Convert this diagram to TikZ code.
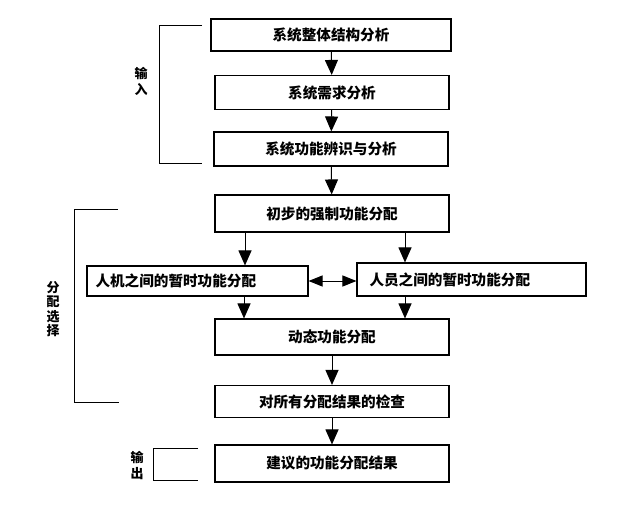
\documentclass[tikz,border=0pt]{standalone}
\usepackage{fontspec}
\setmainfont{Noto Sans CJK SC}
\usetikzlibrary{arrows.meta,positioning}

\begin{document}
\begin{tikzpicture}[x=1pt, y=-1pt,
    box/.style={draw, line width=1.1pt, minimum width=234pt, minimum height=34pt,
      inner sep=0pt, font=\fontsize{14.6}{16}\selectfont\bfseries},
    sidebox/.style={box, minimum width=224pt, minimum height=32pt, text width=204pt, align=left},
    arr/.style={-{Triangle[length=15pt,width=13pt]}, line width=1pt},
    dblarr/.style={{Triangle[length=14pt,width=11pt]}-{Triangle[length=14pt,width=11pt]}, line width=1pt},
    brace/.style={line width=0.8pt},
    tag/.style={font=\fontsize{13}{16}\selectfont\bfseries, align=center}
  ]
  \useasboundingbox (0,0) rectangle (640,511);

  % main chain
  \node[box, minimum width=240pt, minimum height=32pt] (b1) at (331,35) {系统整体结构分析};
  \node[box] (b2) at (332,92.5) {系统需求分析};
  \node[box] (b3) at (331,149) {系统功能辨识与分析};
  \node[box, minimum height=37pt] (b4) at (332,213.5) {初步的强制功能分配};

  % side by side
  \node[sidebox, minimum width=221pt, minimum height=30pt] (lbox) at (197.5,281) {人机之间的暂时功能分配};
  \node[sidebox, minimum width=229pt, minimum height=33pt] (rbox) at (471.5,279.5) {人员之间的暂时功能分配};

  \node[box, minimum height=36pt] (b5) at (332,337) {动态功能分配};
  \node[box, minimum height=32pt] (b6) at (332,401.5) {对所有分配结果的检查};
  \node[box, minimum height=37pt] (b7) at (332,463.5) {建议的功能分配结果};

  \draw[arr] (b1) -- (b2);
  \draw[arr] (b2) -- (b3);
  \draw[arr] (b3) -- (b4);
  \draw[arr] ([xshift=-87pt]b4.south) -- ([xshift=-87pt]b4.south |- lbox.north);
  \draw[arr] ([xshift=73pt]b4.south) -- ([xshift=73pt]b4.south |- rbox.north);
  \draw[arr] ([xshift=-88pt]b5.north |- lbox.south) -- ([xshift=-88pt]b5.north);
  \draw[arr] ([xshift=73pt]b5.north |- rbox.south) -- ([xshift=73pt]b5.north);
  \draw[dblarr] (lbox.east) -- (lbox.east -| rbox.west);
  \draw[arr] (b5) -- (b6);
  \draw[arr] (b6) -- (b7);

  % brackets
  \draw[brace] (202,25) -- (159,25) -- (159,163) -- (202,163);
  \draw[brace] (118,209) -- (74,209) -- (74,402) -- (119,402);
  \draw[brace] (198,448) -- (153,448) -- (153,480) -- (198,480);

  \node[tag] (tin) at (141,81) {输\\入};
  \node[tag, font=\fontsize{13}{14.5}\selectfont\bfseries] (tsel) at (53,309) {分\\配\\选\\择};
  \node[tag] (tout) at (137,465) {输\\出};
\end{tikzpicture}
\end{document}
